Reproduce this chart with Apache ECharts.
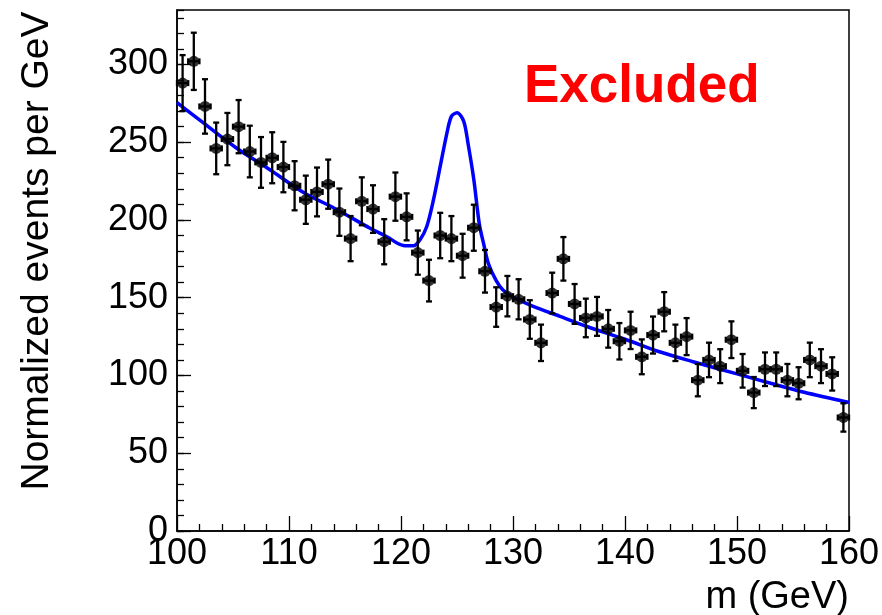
<!DOCTYPE html>
<html>
<head>
<meta charset="utf-8">
<script src="https://cdn.jsdelivr.net/npm/echarts@6/dist/echarts.min.js"></script>
<style>
html,body{margin:0;padding:0;background:#ffffff;}
#chart{width:882px;height:615px;}
</style>
</head>
<body>
<div id="chart"></div>
<script>
// ---- data ----
const massBins = [
  100.5,101.5,102.5,103.5,104.5,105.5,106.5,107.5,108.5,109.5,
  110.5,111.5,112.5,113.5,114.5,115.5,116.5,117.5,118.5,119.5,
  120.5,121.5,122.5,123.5,124.5,125.5,126.5,127.5,128.5,129.5,
  130.5,131.5,132.5,133.5,134.5,135.5,136.5,137.5,138.5,139.5,
  140.5,141.5,142.5,143.5,144.5,145.5,146.5,147.5,148.5,149.5,
  150.5,151.5,152.5,153.5,154.5,155.5,156.5,157.5,158.5,159.5
];
const eventValues = [
  288,302,273,246,252,260,244,237,240,234,
  222,213,218,223,205,188,212,207,186,215,
  202,179,161,190,188,177,195,167,144,151,
  149,136,121,153,175,146,137,138,130,122,
  129,112,126,141,121,125,97,110,106,123,
  103,89,104,104,97,95,110,106,101,73
];
const eventErrors = [
  18.0,18.4,17.5,16.6,16.8,17.1,16.6,16.3,16.4,16.2,
  15.8,15.5,15.7,15.8,15.2,14.5,15.4,15.3,14.5,15.5,
  15.1,14.2,13.4,14.6,14.5,14.1,14.8,13.7,12.7,13.0,
  12.9,12.4,11.7,13.1,14.0,12.8,12.4,12.5,12.1,11.7,
  12.0,11.2,11.9,12.6,11.7,11.9,10.4,11.1,10.9,11.8,
  10.8,10.0,10.8,10.8,10.4,10.3,11.1,10.9,10.7,9.1
];
const binHalfWidth = 0.5;
const fitMass = [
  100,102.3,105.3,108.3,111.3,114.3,117.2,118.7,120.2,121.1,
  121.7,122.3,122.9,123.5,124.1,124.5,125.0,125.6,126.0,126.5,
  127.0,127.4,127.8,128.5,129.1,130.0,131.8,134.2,136.6,140.0,
  143,146,150,153,156,160
];
const fitValues = [
  275.5,262.7,246.3,232.3,217.7,206.6,194.8,189.4,183.6,183.4,
  187.3,195.8,213,234.4,255.9,266.6,269.0,263.4,248.5,226,
  197,184,172,161,155,150.5,144.5,138,131.5,123.3,
  115.4,109,101,95,89.2,82.6
];
const xTickValues = [100,110,120,130,140,150,160];
const yTickValues = [0,50,100,150,200,250,300];
const xTitle = 'm (GeV)';
const yTitle = 'Normalized events per GeV';
const annotationText = 'Excluded';

// ---- chart ----
const FONT = '"Liberation Sans", Arial, Helvetica, sans-serif';
const chart = echarts.init(document.getElementById('chart'), null, {renderer: 'canvas'});

const pointData = massBins.map((m, i) => [m, eventValues[i], eventErrors[i]]);
const fitData = fitMass.map((m, i) => [m, fitValues[i]]);

const tickStyle = {color: '#000', width: 1.3};

const option = {
  animation: false,
  backgroundColor: '#ffffff',
  grid: {
    left: 177, right: 33, top: 10, bottom: 84,
    show: true, borderColor: '#000', borderWidth: 1.5,
    containLabel: false, outerBoundsMode: 'none'
  },
  xAxis: {
    type: 'value',
    min: xTickValues[0], max: xTickValues[xTickValues.length - 1], interval: 10,
    axisLine: {show: true, onZero: false, lineStyle: {color: '#000', width: 1.5}},
    axisTick: {show: true, inside: true, length: 15, lineStyle: tickStyle},
    minorTick: {show: true, splitNumber: 5, length: 7, lineStyle: tickStyle},
    splitLine: {show: false},
    axisLabel: {color: '#000', fontSize: 36, fontFamily: FONT, margin: 5},
    name: xTitle,
    nameLocation: 'end',
    nameGap: 0,
    nameTextStyle: {color: '#000', fontSize: 38, fontFamily: FONT, align: 'right', verticalAlign: 'top', padding: [48, 0, 0, 0]}
  },
  yAxis: [
    {
      type: 'value', min: 0, max: 335, interval: 50, position: 'left',
      axisLine: {show: true, onZero: false, lineStyle: {color: '#000', width: 1.5}},
      axisTick: {show: true, inside: true, length: 14, lineStyle: tickStyle},
      splitLine: {show: false},
      axisLabel: {
        color: '#000', fontSize: 36, fontFamily: FONT, margin: 9, showMaxLabel: false,
        formatter: v => (yTickValues.indexOf(v) >= 0 ? String(v) : '')
      }
    },
    {
      type: 'value', min: 0, max: 335, interval: 10, position: 'left',
      axisLine: {show: false},
      axisTick: {show: true, inside: true, length: 7, lineStyle: tickStyle},
      splitLine: {show: false},
      axisLabel: {show: false}
    }
  ],
  graphic: [
    {
      type: 'text',
      left: 524, top: 61,
      style: {text: annotationText, fill: '#ff0000', font: 'bold 53px ' + FONT}
    },
    {
      type: 'text',
      x: 37, y: 251,
      rotation: Math.PI / 2,
      style: {text: yTitle, fill: '#000', font: '39px ' + FONT, align: 'center', verticalAlign: 'middle'}
    }
  ],
  series: [
    {
      type: 'line',
      name: 'fit',
      data: fitData,
      yAxisIndex: 0,
      smooth: 0.3,
      showSymbol: false,
      symbol: 'none',
      lineStyle: {color: '#0000ff', width: 3.5},
      z: 2
    },
    {
      type: 'custom',
      name: 'errors',
      data: pointData,
      yAxisIndex: 0,
      encode: {x: 0, y: 1},
      z: 3,
      renderItem: function (params, api) {
        const x = api.value(0), y = api.value(1), e = api.value(2);
        const c = api.coord([x, y]);
        const t = api.coord([x, y + e]);
        const b = api.coord([x, y - e]);
        const l = api.coord([x - binHalfWidth, y]);
        const r = api.coord([x + binHalfWidth, y]);
        const cap = 3;
        const st = {stroke: '#000', lineWidth: 2.3};
        return {
          type: 'group',
          children: [
            {type: 'line', shape: {x1: c[0], y1: t[1], x2: c[0], y2: b[1]}, style: st},
            {type: 'line', shape: {x1: c[0] - cap, y1: t[1], x2: c[0] + cap, y2: t[1]}, style: st},
            {type: 'line', shape: {x1: c[0] - cap, y1: b[1], x2: c[0] + cap, y2: b[1]}, style: st},
            {type: 'line', shape: {x1: l[0], y1: c[1], x2: r[0], y2: c[1]}, style: st},
            {type: 'line', shape: {x1: l[0], y1: c[1] - cap, x2: l[0], y2: c[1] + cap}, style: st},
            {type: 'line', shape: {x1: r[0], y1: c[1] - cap, x2: r[0], y2: c[1] + cap}, style: st}
          ]
        };
      }
    },
    {
      type: 'scatter',
      name: 'data',
      data: pointData.map(p => [p[0], p[1]]),
      yAxisIndex: 0,
      symbol: 'circle',
      symbolSize: 11,
      itemStyle: {color: '#000'},
      z: 4
    }
  ]
};
chart.setOption(option);
</script>
</body>
</html>
